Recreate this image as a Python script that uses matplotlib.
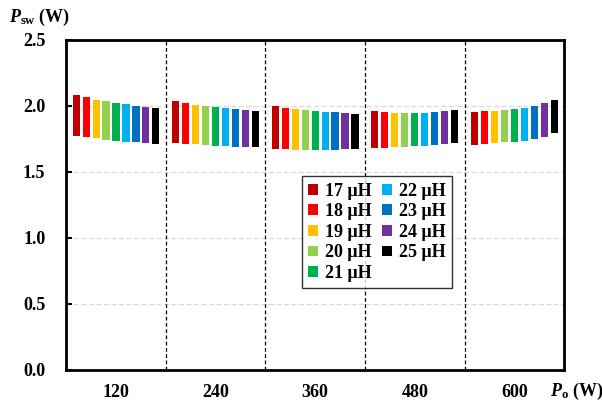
import matplotlib.pyplot as plt
import numpy as np

plt.rcParams['font.family'] = ['Liberation Serif', 'DejaVu Serif']
plt.rcParams['font.weight'] = 'bold'
plt.rcParams['mathtext.fontset'] = 'custom'
plt.rcParams['mathtext.it'] = 'Liberation Serif:italic:bold'
plt.rcParams['mathtext.rm'] = 'Liberation Serif:bold'
plt.rcParams['mathtext.bf'] = 'Liberation Serif:bold'

# 输出功率分组
power = ['120', '240', '360', '480', '600']
inductance = ['17 μH', '18 μH', '19 μH', '20 μH', '21 μH',
              '22 μH', '23 μH', '24 μH', '25 μH']
colors = ['#C00000', '#FF0000', '#FFC000', '#92D050', '#00B050',
          '#00B0F0', '#0070C0', '#7030A0', '#000000']

# 每组里各电感的 Psw 上限/下限 (W)
top_120 = [2.083, 2.066, 2.048, 2.035, 2.023, 2.015, 2.002, 1.995, 1.987]
low_120 = [1.775, 1.762, 1.755, 1.745, 1.737, 1.730, 1.725, 1.717, 1.710]
top_240 = [2.035, 2.023, 2.010, 2.000, 1.992, 1.982, 1.975, 1.967, 1.960]
low_240 = [1.722, 1.715, 1.710, 1.705, 1.700, 1.694, 1.692, 1.687, 1.685]
top_360 = [2.000, 1.987, 1.977, 1.970, 1.962, 1.955, 1.952, 1.947, 1.942]
low_360 = [1.674, 1.672, 1.669, 1.667, 1.664, 1.669, 1.669, 1.672, 1.677]
top_480 = [1.965, 1.957, 1.950, 1.944, 1.947, 1.950, 1.955, 1.962, 1.970]
low_480 = [1.679, 1.682, 1.685, 1.689, 1.697, 1.700, 1.705, 1.712, 1.717]
top_600 = [1.957, 1.962, 1.965, 1.972, 1.977, 1.987, 2.002, 2.020, 2.048]
low_600 = [1.705, 1.710, 1.717, 1.725, 1.730, 1.737, 1.750, 1.768, 1.798]

tops = [top_120, top_240, top_360, top_480, top_600]
lows = [low_120, low_240, low_360, low_480, low_600]

fig = plt.figure(figsize=(6.02, 4.03), dpi=100)
ax = fig.add_axes([0.110, 0.082, 0.827, 0.819])

x = np.arange(len(power))
for j in range(len(inductance)):
    t = np.array([g[j] for g in tops])
    b = np.array([g[j] for g in lows])
    ax.bar(x + (j - 4) * 0.1, t - b, bottom=b, width=0.072,
           color=colors[j], label=inductance[j], zorder=3)

# 组间分隔虚线
for k in range(1, len(power)):
    ax.axvline(k - 0.5, color='black', ls=(0, (3, 2)), lw=0.9, zorder=2)

ax.set_xlim(-0.5, len(power) - 0.5)
ax.set_ylim(0, 2.5)
ax.set_yticks(np.arange(0, 2.51, 0.5))
ax.set_yticklabels([f'{v:.1f}' for v in np.arange(0, 2.51, 0.5)])
ax.yaxis.grid(True, color='#d9d9d9', ls=(0, (4, 2)), lw=0.9, zorder=0)
ax.set_xticks(x)
ax.set_xticklabels(power)
ax.tick_params(axis='x', length=0, pad=10, labelsize=13)
ax.tick_params(axis='y', direction='in', length=4, width=1.5, pad=15, labelsize=13)
for s in ax.spines.values():
    s.set_linewidth(2)

fig.text(9 / 602, 1 - 17 / 403, r'$P_{\mathrm{sw}}$ (W)', fontsize=13,
         fontweight='bold', va='center', ha='left')
fig.text(550 / 602, 1 - 391 / 403, r'$P_{\mathrm{o}}$ (W)', fontsize=13,
         fontweight='bold', va='center', ha='left')

leg = ax.legend(ncol=2, loc='upper left', bbox_to_anchor=(0.473, 0.587),
                fontsize=13, handlelength=0.55, handleheight=0.55,
                handletextpad=0.4, columnspacing=0.55, labelspacing=0.2,
                frameon=True, fancybox=False, edgecolor='black',
                borderpad=0.35, borderaxespad=0)
leg.get_frame().set_linewidth(1.0)

fig.savefig('out.png', dpi=100)
